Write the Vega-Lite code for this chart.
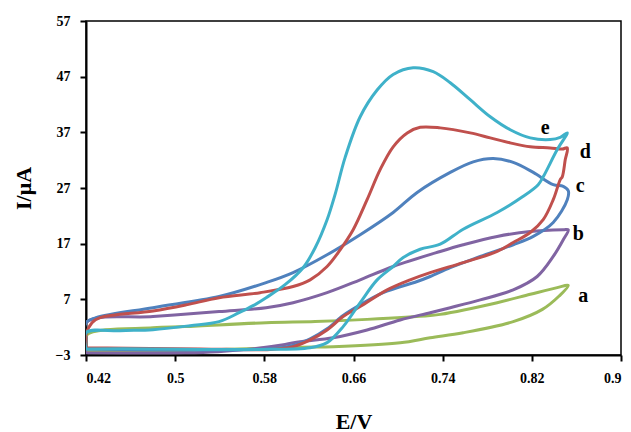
{
  "$schema": "https://vega.github.io/schema/vega-lite/v6.json",
  "width": 535,
  "height": 334,
  "autosize": {"type": "none"},
  "padding": {"left": 86, "top": 21, "right": 10, "bottom": 77},
  "background": "white",
  "config": {
    "view": {"stroke": "black", "strokeWidth": 1.5},
    "font": "Liberation Serif"
  },
  "datasets": {
    "cv": [
      {"s":"a","i":0,"x":0.42,"y":-2.4},{"s":"a","i":1,"x":0.42,"y":0.5},{"s":"a","i":2,"x":0.4801,"y":1.9},{"s":"a","i":3,"x":0.5089,"y":2.1},{"s":"a","i":4,"x":0.5816,"y":2.8},{"s":"a","i":5,"x":0.6256,"y":3.0},{"s":"a","i":6,"x":0.6722,"y":3.4},{"s":"a","i":7,"x":0.7288,"y":4.1},{"s":"a","i":8,"x":0.7378,"y":4.3},{"s":"a","i":9,"x":0.7889,"y":6.4},{"s":"a","i":10,"x":0.8186,"y":7.9},{"s":"a","i":11,"x":0.8428,"y":9.1},{"s":"a","i":12,"x":0.8527,"y":9.5},{"s":"a","i":13,"x":0.8445,"y":7.6},{"s":"a","i":14,"x":0.8295,"y":5.2},{"s":"a","i":15,"x":0.8033,"y":3.0},{"s":"a","i":16,"x":0.7584,"y":1.0},{"s":"a","i":17,"x":0.7288,"y":0.1},{"s":"a","i":18,"x":0.7019,"y":-0.8},{"s":"a","i":19,"x":0.6417,"y":-1.5},{"s":"a","i":20,"x":0.6121,"y":-1.6},{"s":"a","i":21,"x":0.5089,"y":-2.2},{"s":"a","i":22,"x":0.42,"y":-2.4},

      {"s":"b","i":0,"x":0.42,"y":-2.6},{"s":"b","i":1,"x":0.42,"y":2.8},{"s":"b","i":2,"x":0.4801,"y":3.9},{"s":"b","i":3,"x":0.5394,"y":4.8},{"s":"b","i":4,"x":0.5816,"y":5.5},{"s":"b","i":5,"x":0.6058,"y":6.4},{"s":"b","i":6,"x":0.6363,"y":8.2},{"s":"b","i":7,"x":0.666,"y":10.5},{"s":"b","i":8,"x":0.6956,"y":12.9},{"s":"b","i":9,"x":0.7378,"y":15.6},{"s":"b","i":10,"x":0.7584,"y":16.8},{"s":"b","i":11,"x":0.7889,"y":18.3},{"s":"b","i":12,"x":0.8186,"y":19.2},{"s":"b","i":13,"x":0.8482,"y":19.5},{"s":"b","i":14,"x":0.8527,"y":19.5},{"s":"b","i":15,"x":0.8482,"y":17.7},{"s":"b","i":16,"x":0.8392,"y":14.7},{"s":"b","i":17,"x":0.8248,"y":11.1},{"s":"b","i":18,"x":0.8033,"y":8.7},{"s":"b","i":19,"x":0.7737,"y":6.9},{"s":"b","i":20,"x":0.7468,"y":5.5},{"s":"b","i":21,"x":0.7288,"y":4.6},{"s":"b","i":22,"x":0.7019,"y":3.3},{"s":"b","i":23,"x":0.6722,"y":1.5},{"s":"b","i":24,"x":0.6417,"y":0.1},{"s":"b","i":25,"x":0.6121,"y":-0.6},{"s":"b","i":26,"x":0.5986,"y":-1.1},{"s":"b","i":27,"x":0.569,"y":-1.9},{"s":"b","i":28,"x":0.5385,"y":-2.4},{"s":"b","i":29,"x":0.5089,"y":-2.6},{"s":"b","i":30,"x":0.42,"y":-2.6},

      {"s":"c","i":0,"x":0.42,"y":-1.9},{"s":"c","i":1,"x":0.42,"y":2.8},{"s":"c","i":2,"x":0.429,"y":3.7},{"s":"c","i":3,"x":0.4801,"y":5.5},{"s":"c","i":4,"x":0.5394,"y":7.5},{"s":"c","i":5,"x":0.5816,"y":10.0},{"s":"c","i":6,"x":0.6058,"y":11.8},{"s":"c","i":7,"x":0.6363,"y":15.0},{"s":"c","i":8,"x":0.666,"y":18.6},{"s":"c","i":9,"x":0.6956,"y":22.6},{"s":"c","i":10,"x":0.7171,"y":26.2},{"s":"c","i":11,"x":0.7468,"y":29.8},{"s":"c","i":12,"x":0.7674,"y":31.7},{"s":"c","i":13,"x":0.7854,"y":32.3},{"s":"c","i":14,"x":0.8033,"y":31.6},{"s":"c","i":15,"x":0.8213,"y":29.8},{"s":"c","i":16,"x":0.8392,"y":27.6},{"s":"c","i":17,"x":0.8482,"y":27.3},{"s":"c","i":18,"x":0.8527,"y":26.5},{"s":"c","i":19,"x":0.8518,"y":24.9},{"s":"c","i":20,"x":0.8392,"y":20.8},{"s":"c","i":21,"x":0.8213,"y":18.3},{"s":"c","i":22,"x":0.8033,"y":16.8},{"s":"c","i":23,"x":0.7737,"y":14.7},{"s":"c","i":24,"x":0.7468,"y":12.7},{"s":"c","i":25,"x":0.7288,"y":11.1},{"s":"c","i":26,"x":0.7171,"y":10.2},{"s":"c","i":27,"x":0.6866,"y":8.2},{"s":"c","i":28,"x":0.6633,"y":5.7},{"s":"c","i":29,"x":0.6507,"y":4.1},{"s":"c","i":30,"x":0.6363,"y":1.7},{"s":"c","i":31,"x":0.6211,"y":-0.1},{"s":"c","i":32,"x":0.6058,"y":-1.3},{"s":"c","i":33,"x":0.5852,"y":-1.9},{"s":"c","i":34,"x":0.42,"y":-1.9},

      {"s":"d","i":0,"x":0.42,"y":-1.7},{"s":"d","i":1,"x":0.42,"y":0.65},{"s":"d","i":2,"x":0.4254,"y":2.8},{"s":"d","i":3,"x":0.4326,"y":3.7},{"s":"d","i":4,"x":0.4801,"y":4.9},{"s":"d","i":5,"x":0.5098,"y":6.0},{"s":"d","i":6,"x":0.5394,"y":7.3},{"s":"d","i":7,"x":0.5762,"y":8.2},{"s":"d","i":8,"x":0.6058,"y":9.3},{"s":"d","i":9,"x":0.6211,"y":10.5},{"s":"d","i":10,"x":0.6363,"y":12.9},{"s":"d","i":11,"x":0.648,"y":15.9},{"s":"d","i":12,"x":0.6597,"y":19.5},{"s":"d","i":13,"x":0.6722,"y":24.9},{"s":"d","i":14,"x":0.6839,"y":30.3},{"s":"d","i":15,"x":0.6956,"y":34.4},{"s":"d","i":16,"x":0.7082,"y":36.9},{"s":"d","i":17,"x":0.7198,"y":37.9},{"s":"d","i":18,"x":0.7378,"y":37.8},{"s":"d","i":19,"x":0.7647,"y":36.9},{"s":"d","i":20,"x":0.7827,"y":36.0},{"s":"d","i":21,"x":0.8006,"y":35.1},{"s":"d","i":22,"x":0.8186,"y":34.4},{"s":"d","i":23,"x":0.8365,"y":34.2},{"s":"d","i":24,"x":0.8473,"y":34.0},{"s":"d","i":25,"x":0.8518,"y":34.2},{"s":"d","i":26,"x":0.85,"y":32.1},{"s":"d","i":27,"x":0.8473,"y":29.0},{"s":"d","i":28,"x":0.8455,"y":28.5},{"s":"d","i":29,"x":0.8392,"y":24.9},{"s":"d","i":30,"x":0.8302,"y":21.3},{"s":"d","i":31,"x":0.8186,"y":19.0},{"s":"d","i":32,"x":0.8033,"y":17.2},{"s":"d","i":33,"x":0.7889,"y":15.6},{"s":"d","i":34,"x":0.7584,"y":13.6},{"s":"d","i":35,"x":0.7288,"y":11.8},{"s":"d","i":36,"x":0.7108,"y":10.5},{"s":"d","i":37,"x":0.6902,"y":8.7},{"s":"d","i":38,"x":0.666,"y":5.7},{"s":"d","i":39,"x":0.6507,"y":3.9},{"s":"d","i":40,"x":0.6363,"y":1.5},{"s":"d","i":41,"x":0.6211,"y":-0.3},{"s":"d","i":42,"x":0.6058,"y":-1.5},{"s":"d","i":43,"x":0.5852,"y":-2.0},{"s":"d","i":44,"x":0.5223,"y":-1.9},{"s":"d","i":45,"x":0.42,"y":-1.7},

      {"s":"e","i":0,"x":0.42,"y":-1.9},{"s":"e","i":1,"x":0.42,"y":1.0},{"s":"e","i":2,"x":0.4505,"y":1.37},{"s":"e","i":3,"x":0.4801,"y":1.55},{"s":"e","i":4,"x":0.5134,"y":2.27},{"s":"e","i":5,"x":0.5394,"y":2.99},{"s":"e","i":6,"x":0.5573,"y":4.6},{"s":"e","i":7,"x":0.5699,"y":5.86},{"s":"e","i":8,"x":0.5816,"y":7.3},{"s":"e","i":9,"x":0.5986,"y":9.63},{"s":"e","i":10,"x":0.6148,"y":12.68},{"s":"e","i":11,"x":0.6256,"y":16.27},{"s":"e","i":12,"x":0.6363,"y":21.3},{"s":"e","i":13,"x":0.6437,"y":26.0},{"s":"e","i":14,"x":0.6525,"y":32.5},{"s":"e","i":15,"x":0.666,"y":39.8},{"s":"e","i":16,"x":0.6812,"y":44.6},{"s":"e","i":17,"x":0.6956,"y":47.4},{"s":"e","i":18,"x":0.7135,"y":48.6},{"s":"e","i":19,"x":0.7315,"y":47.9},{"s":"e","i":20,"x":0.7468,"y":45.9},{"s":"e","i":21,"x":0.7647,"y":42.86},{"s":"e","i":22,"x":0.7827,"y":39.8},{"s":"e","i":23,"x":0.8006,"y":37.47},{"s":"e","i":24,"x":0.8186,"y":36.0},{"s":"e","i":25,"x":0.8365,"y":35.7},{"s":"e","i":26,"x":0.8455,"y":36.1},{"s":"e","i":27,"x":0.8518,"y":36.9},{"s":"e","i":28,"x":0.8428,"y":33.9},{"s":"e","i":29,"x":0.8302,"y":29.0},{"s":"e","i":30,"x":0.8257,"y":27.6},{"s":"e","i":31,"x":0.8123,"y":25.5},{"s":"e","i":32,"x":0.7889,"y":22.6},{"s":"e","i":33,"x":0.7584,"y":19.6},{"s":"e","i":34,"x":0.7378,"y":16.9},{"s":"e","i":35,"x":0.7198,"y":16.0},{"s":"e","i":36,"x":0.7046,"y":14.5},{"s":"e","i":37,"x":0.6956,"y":12.9},{"s":"e","i":38,"x":0.6812,"y":10.5},{"s":"e","i":39,"x":0.666,"y":6.4},{"s":"e","i":40,"x":0.6507,"y":2.1},{"s":"e","i":41,"x":0.6363,"y":-0.78},{"s":"e","i":42,"x":0.621,"y":-1.7},{"s":"e","i":43,"x":0.5762,"y":-2.0},{"s":"e","i":44,"x":0.5223,"y":-2.0},{"s":"e","i":45,"x":0.4775,"y":-1.9},{"s":"e","i":46,"x":0.42,"y":-1.9}
    ],
    "labels": [
      {"t":"a","x":0.8661,"y":7.6},
      {"t":"b","x":0.8617,"y":18.8},
      {"t":"c","x":0.8634,"y":27.3},
      {"t":"d","x":0.8679,"y":33.5},
      {"t":"e","x":0.832,"y":37.8}
    ]
  },
  "layer": [
    {
      "data": {"name": "cv"},
      "mark": {"type": "line", "strokeWidth": 3, "interpolate": "catmull-rom", "clip": true},
      "encoding": {
        "x": {
          "field": "x", "type": "quantitative",
          "scale": {"domain": [0.42, 0.9], "nice": false, "zero": false},
          "axis": {
            "values": [0.42, 0.5, 0.58, 0.66, 0.74, 0.82, 0.9],
            "format": ".2~f",
            "grid": false,
            "title": "E/V",
            "titleFont": "Liberation Serif", "titleFontSize": 22, "titleFontWeight": "bold", "titleColor": "black",
            "titlePadding": 26,
            "labelFont": "Liberation Serif", "labelFontSize": 14, "labelFontWeight": "bold", "labelColor": "black",
            "labelPadding": 10,
            "domainColor": "black", "domainWidth": 2,
            "tickColor": "black", "tickWidth": 2, "tickSize": 6
          }
        },
        "y": {
          "field": "y", "type": "quantitative",
          "scale": {"domain": [-3, 57], "nice": false, "zero": false},
          "axis": {
            "values": [-3, 7, 17, 27, 37, 47, 57],
            "format": "d",
            "grid": false,
            "title": "I/μA",
            "titleFont": "Liberation Serif", "titleFontSize": 22, "titleFontWeight": "bold", "titleColor": "black",
            "titlePadding": 20,
            "labelFont": "Liberation Serif", "labelFontSize": 14, "labelFontWeight": "bold", "labelColor": "black",
            "labelPadding": 10,
            "domainColor": "black", "domainWidth": 2,
            "tickColor": "black", "tickWidth": 2, "tickSize": 6
          }
        },
        "color": {
          "field": "s", "type": "nominal",
          "scale": {"domain": ["a","b","c","d","e"], "range": ["#9BBB59","#8064A2","#4F81BD","#C0504D","#3FB1C9"]},
          "legend": null
        },
        "order": {"field": "i", "type": "quantitative"}
      }
    },
    {
      "data": {"name": "labels"},
      "mark": {"type": "text", "font": "Liberation Serif", "fontSize": 20, "fontWeight": "bold", "color": "black", "baseline": "middle", "align": "center"},
      "encoding": {
        "x": {"field": "x", "type": "quantitative"},
        "y": {"field": "y", "type": "quantitative"},
        "text": {"field": "t"}
      }
    }
  ]
}
